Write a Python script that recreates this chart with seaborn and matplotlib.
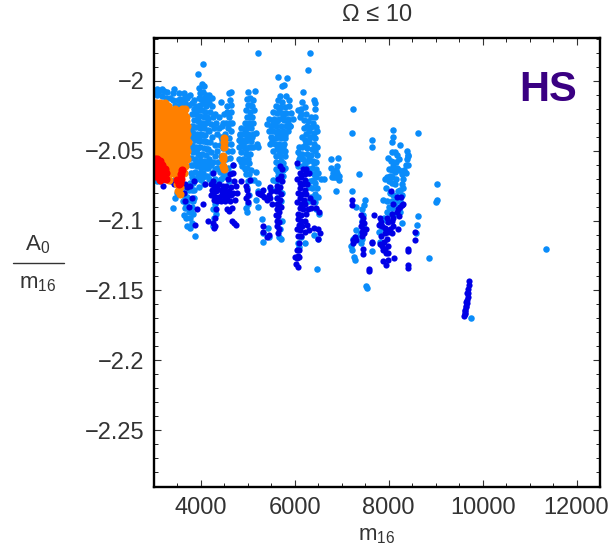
import matplotlib
matplotlib.use('Agg')
import matplotlib.pyplot as plt
from matplotlib.lines import Line2D
from matplotlib.ticker import MultipleLocator
import pandas as pd
import seaborn as sns

# values, (m16, A0/m16)
light_left = [(3020,-2.007),(3060,-2.006),(3110,-2.007),(3160,-2.006),(3220,-2.007),(3270,-2.008),(3060,-2.010),(3160,-2.011),
              (3250,-2.012),(3420,-2.006),(3410,-2.009),(3350,-2.012),(3400,-2.014),(3530,-2.009),(3560,-2.013),(3640,-2.009),
              (3660,-2.011),(3520,-2.014),(3600,-2.014),(3700,-2.012),(3760,-2.010),(3450,-2.017),(3550,-2.017),(3660,-2.016),
              (3750,-2.017),(3020,-2.070),(3060,-2.072),(3130,-2.072),(3200,-2.070),(3290,-2.071),(3360,-2.072),(3450,-2.071),
              (3560,-2.071),(3403,-2.091),(3453,-2.084),(3500,-2.080),(3600,-2.075),(3640,-2.080),(3620,-2.086),(3660,-2.091),
              (3640,-2.096),(3700,-2.083),(3740,-2.078),(3770,-2.085),(3720,-2.090),(3780,-2.093),(3690,-2.098),(3760,-2.098),
              (3830,-2.095),(3800,-2.078),(3850,-2.084),(3710,-2.104),(3772,-2.105),(3800,-2.102),(3878,-2.111),(3830,-2.073),
              (3680,-2.088),(3810,-2.090),(3740,-2.094),(3680,-2.076),(3770,-2.073),(3860,-2.078),(3660,-2.083),(3830,-2.086)]
light_b = [(4034,-1.988),(3935,-1.995),(4020,-2.002),(3960,-2.005),(4060,-2.004),(3980,-2.009),(4040,-2.008),(4100,-2.010),
           (3950,-2.012),(4010,-2.013),(4070,-2.012),(4130,-2.014),(3820,-2.016),(3980,-2.017),(4050,-2.016),(4110,-2.018),
           (3860,-2.020),(3960,-2.021),(4030,-2.021),(4090,-2.022),(3820,-2.024),(3900,-2.024),(3990,-2.025),(4060,-2.026),
           (4130,-2.026),(3850,-2.028),(3940,-2.029),(4020,-2.030),(4100,-2.030),(3800,-2.032),(3890,-2.033),(3970,-2.034),
           (4060,-2.034),(4140,-2.035),(3830,-2.037),(3920,-2.038),(4010,-2.038),(4090,-2.039),(3790,-2.041),(3870,-2.042),
           (3950,-2.043),(4040,-2.043),(4120,-2.044),(3810,-2.046),(3890,-2.047),(3980,-2.047),(4070,-2.048),(3840,-2.051),
           (3930,-2.052),(4020,-2.052),(4110,-2.053),(3790,-2.055),(3880,-2.056),(3970,-2.057),(4060,-2.057),(4140,-2.058),
           (3830,-2.060),(3920,-2.061),(4010,-2.062),(4100,-2.062),(3870,-2.065),(3960,-2.066),(4050,-2.066),(3820,-2.069),
           (3900,-2.070),(4000,-2.071),(4130,-2.068),(3950,-2.076),(4060,-2.074),
           (3900,-2.018),(3860,-2.014),(3930,-2.026),(3860,-2.033),(3780,-2.036),(3960,-2.040),(3850,-2.039),(3800,-2.049),
           (3780,-2.060),(3900,-2.058),(3990,-2.054),(4080,-2.043),(4120,-2.049),(4080,-2.060),(3860,-2.072),(3790,-2.066),
           (3940,-2.068),(3990,-2.060),(4040,-2.069),(3920,-2.049),(4050,-2.039),(3990,-2.030)]
light_c = [(4425,-2.015),(4180,-2.010),(4230,-2.012),(4170,-2.016),(4240,-2.018),(4190,-2.022),(4160,-2.027),(4250,-2.026),
           (4210,-2.031),(4170,-2.036),(4270,-2.034),(4240,-2.040),(4190,-2.044),(4160,-2.049),(4290,-2.046),(4220,-2.051),
           (4180,-2.056),(4260,-2.058),(4160,-2.062),(4300,-2.063),(4230,-2.066),(4180,-2.070),(4550,-2.018),(4590,-2.009),
           (4630,-2.008),(4610,-2.014),(4560,-2.022),(4640,-2.017),(4590,-2.026),(4650,-2.022),(4530,-2.030),(4620,-2.030),
           (4480,-2.030),(4580,-2.034),(4640,-2.036),(4510,-2.038),(4600,-2.041),(4450,-2.042),(4540,-2.045),(4630,-2.045),
           (4400,-2.046),(4480,-2.048),(4580,-2.050),(4350,-2.050),(4430,-2.054),(4530,-2.056),(4620,-2.055),(4370,-2.058),
           (4470,-2.060),(4570,-2.062),(4400,-2.065),(4510,-2.067),(4640,-2.066),(4680,-2.060),(4350,-2.072),(4600,-2.072),
           (4250,-2.092),(4300,-2.088),(4280,-2.098),(4330,-2.095),(4260,-2.104),
           (4300,-2.024),(4330,-2.030),(4340,-2.038),(4390,-2.034),(4420,-2.040),(4300,-2.054),(4340,-2.062),(4440,-2.032),
           (4380,-2.026),(4500,-2.024),(4210,-2.060),(4290,-2.070),(4420,-2.070),(4470,-2.069),(4660,-2.030),(4660,-2.050)]
light_d = [(5225,-1.980),(5010,-2.008),(5160,-2.007),(4980,-2.013),(5050,-2.012),(5110,-2.014),(5010,-2.017),(5080,-2.018),
           (4970,-2.021),(5050,-2.022),(5130,-2.021),(4990,-2.026),(5080,-2.026),(4930,-2.030),(5030,-2.030),(5110,-2.030),
           (4860,-2.034),(4950,-2.034),(5060,-2.034),(4830,-2.038),(4910,-2.038),(5000,-2.038),(5100,-2.038),(4800,-2.042),
           (4880,-2.042),(4970,-2.043),(5060,-2.043),(4820,-2.047),(4910,-2.047),(5020,-2.047),(5110,-2.047),(4850,-2.051),
           (4950,-2.052),(5050,-2.052),(4820,-2.056),(4900,-2.056),(5000,-2.056),(4880,-2.061),(4990,-2.062),(5060,-2.064),
           (4950,-2.067),(5000,-2.072),(5060,-2.071),(4980,-2.077),(5020,-2.082),(5170,-2.037),(5200,-2.045),(5220,-2.047),
           (5180,-2.065),(5210,-2.073),(5220,-2.079),(5130,-2.071),(5170,-2.085),(5210,-2.090),(4950,-2.091),(5000,-2.088),
           (4990,-2.094),(5290,-2.099),(5330,-2.109),(5320,-2.115),(5440,-2.112),(5420,-2.105),
           (4900,-2.045),(4960,-2.049),(4860,-2.044),(4930,-2.036),(5010,-2.033),(5040,-2.026),(4980,-2.041),(5070,-2.047),
           (4860,-2.058),(4940,-2.058),(5030,-2.059),(4930,-2.063),(5030,-2.067),(4840,-2.039),(5090,-2.040),(5040,-2.017)]
light_e = [(5650,-1.997),(5830,-1.998),(5760,-2.003),(5720,-2.004),(5690,-2.011),(5810,-2.011),(5640,-2.014),(5730,-2.015),
           (5870,-2.014),(5590,-2.018),(5680,-2.019),(5780,-2.019),(5880,-2.018),(5530,-2.022),(5620,-2.023),(5720,-2.023),
           (5820,-2.023),(5920,-2.023),(5460,-2.027),(5560,-2.027),(5660,-2.027),(5760,-2.028),(5860,-2.027),(5960,-2.027),
           (5400,-2.031),(5490,-2.032),(5590,-2.032),(5700,-2.032),(5810,-2.032),(5900,-2.032),(5440,-2.036),(5540,-2.036),
           (5650,-2.036),(5750,-2.036),(5850,-2.036),(5500,-2.040),(5600,-2.041),(5700,-2.041),(5800,-2.041),(5470,-2.045),
           (5570,-2.045),(5670,-2.045),(5770,-2.045),(5620,-2.049),(5720,-2.050),(5540,-2.050),(5790,-2.050),(5600,-2.054),
           (5690,-2.054),(5790,-2.054),(5640,-2.059),(5740,-2.059),(5600,-2.063),(5690,-2.063),(5780,-2.062),(5650,-2.068),
           (5740,-2.068),(5600,-2.072),(5700,-2.072),(5530,-2.071),(5480,-2.077),(5590,-2.078),(5660,-2.078),(5720,-2.080),
           (5610,-2.084),(5700,-2.086),(5650,-2.092),(5720,-2.100),(5690,-2.106),(5660,-2.112),(5700,-2.113),(5900,-2.032),
           (5660,-2.020),(5740,-2.025),(5620,-2.029),(5850,-2.030),(5540,-2.030),(5710,-2.038),(5610,-2.038),(5800,-2.039),
           (5520,-2.043),(5640,-2.048),(5740,-2.047),(5660,-2.052),(5600,-2.058),(5700,-2.057),(5640,-2.065),(5750,-2.064)]
light_f = [(6324,-1.980),(6289,-1.992),(6180,-2.008),(6400,-2.014),(6420,-2.016),(6160,-2.015),(6130,-2.020),(6220,-2.019),
           (6060,-2.021),(6430,-2.020),(6140,-2.024),(6230,-2.024),(6100,-2.026),(6350,-2.026),(6440,-2.026),(6200,-2.028),
           (6280,-2.029),(6390,-2.030),(6250,-2.032),(6340,-2.033),(6460,-2.033),(6300,-2.036),(6400,-2.037),(6480,-2.036),
           (6240,-2.038),(6350,-2.040),(6440,-2.041),(6150,-2.040),(6210,-2.042),(6300,-2.044),(6400,-2.045),(6080,-2.047),
           (6160,-2.047),(6260,-2.048),(6360,-2.049),(6480,-2.047),(6060,-2.051),(6150,-2.052),(6250,-2.052),(6350,-2.053),
           (6470,-2.053),(6080,-2.056),(6180,-2.056),(6270,-2.057),(6380,-2.057),(6460,-2.058),(6060,-2.061),(6160,-2.061),
           (6260,-2.062),(6360,-2.062),(6450,-2.063),(6300,-2.066),(6400,-2.067),(6500,-2.066),(6330,-2.072),(6440,-2.073),
           (6370,-2.077),(6470,-2.077),(6430,-2.081),(6500,-2.083),(6300,-2.086),(6420,-2.087),(6560,-2.070),(6450,-2.092),
           (6520,-2.095),(6060,-2.116),(6130,-2.112),(6210,-2.116),(6080,-2.119),(6400,-2.110),(6490,-2.113),(6476,-2.135),
           (6190,-2.034),(6330,-2.040),(6420,-2.050),(6210,-2.046),(6310,-2.055),(6120,-2.053),(6220,-2.059),(6410,-2.059),
           (6330,-2.064),(6450,-2.069),(6380,-2.071),(6300,-2.076),(6340,-2.083),(6400,-2.083)]
light_g = [(6770,-2.056),(6780,-2.062),(6920,-2.055),(6900,-2.061),(6870,-2.064),(6820,-2.066),(6900,-2.066),(6950,-2.068),
           (6790,-2.069),(6830,-2.069),(6930,-2.071),(6880,-2.069),(6620,-2.070),(6870,-2.079),(7248,-2.020),(7226,-2.037),
           (7638,-2.042),(7645,-2.047),(7375,-2.067),(7226,-2.079),(7310,-2.090),(7490,-2.085),(7480,-2.089),(7440,-2.092),
           (7460,-2.096),(7420,-2.100),(7450,-2.104),(7310,-2.107),(7410,-2.109),(7470,-2.106),(7280,-2.112),(7230,-2.113),
           (7190,-2.118),(7220,-2.121),(7410,-2.116),(7250,-2.126),(7280,-2.128),(7645,-2.122),(7531,-2.148),(7520,-2.147),
           (7430,-2.113),(7390,-2.110)]
light_h = [(8084,-2.035),(8084,-2.040),(8075,-2.044),(8250,-2.046),(8390,-2.050),(8400,-2.053),(8420,-2.054),(7990,-2.055),
           (8060,-2.051),(8130,-2.051),(8180,-2.053),(8220,-2.056),(8040,-2.057),(8100,-2.058),(8160,-2.058),(8380,-2.056),
           (8100,-2.061),(8170,-2.062),(8360,-2.060),(8400,-2.060),(8010,-2.063),(8070,-2.064),(8140,-2.065),(8210,-2.064),
           (8330,-2.064),(8370,-2.066),(7960,-2.069),(8030,-2.068),(8080,-2.069),(8150,-2.070),(8290,-2.067),(8310,-2.070),
           (8010,-2.072),(8070,-2.073),(8130,-2.074),(8280,-2.074),(7920,-2.070),(8300,-2.077),(8240,-2.078),(8200,-2.079),
           (8280,-2.082),(7950,-2.077),(8020,-2.080),(8100,-2.082),(8180,-2.083),(7880,-2.085),(7970,-2.086),(8060,-2.086),
           (8140,-2.087),(8240,-2.086),(8000,-2.090),(8080,-2.091),(8190,-2.090),(7960,-2.094),(8040,-2.095),(8140,-2.095),
           (8250,-2.094),(7890,-2.098),(7960,-2.100),(8290,-2.102),(7800,-2.108),(7850,-2.105),(7810,-2.115),(8616,-2.037),
           (9034,-2.074),(9020,-2.085),(9006,-2.087),(8630,-2.097),(8600,-2.103),(8590,-2.109),(8864,-2.127),(11346,-2.120),
           (9757,-2.170)]
dark_a = [(3200,-2.075),(3420,-2.074),(3660,-2.074),(3700,-2.076),(3850,-2.072),(3770,-2.075),(3630,-2.080),(3660,-2.086),
          (3800,-2.084),(3750,-2.090),(3870,-2.103),(3920,-2.092),(4050,-2.088),(4090,-2.074),(4140,-2.100),(4260,-2.066),
          (4250,-2.072),(4270,-2.077),(4290,-2.083),(4330,-2.092),(4300,-2.098),(4270,-2.105),(4260,-2.102),(4300,-2.104)]
dark_b = [(4220,-2.074),(4300,-2.075),(4380,-2.074),(4460,-2.075),(4540,-2.075),(4630,-2.076),(4700,-2.072),(4240,-2.078),
          (4330,-2.079),(4420,-2.078),(4510,-2.079),(4600,-2.079),(4690,-2.080),(4220,-2.082),(4290,-2.083),(4380,-2.083),
          (4470,-2.082),(4560,-2.083),(4650,-2.082),(4760,-2.080),(4740,-2.075),(4720,-2.085),(4340,-2.086),(4430,-2.086),
          (4520,-2.086),(4610,-2.086),(4660,-2.091),(4550,-2.092),(4600,-2.093),(4660,-2.100),(4700,-2.102),(4740,-2.103),
          (4620,-2.067),(4680,-2.066),(4690,-2.060),(4570,-2.070),(4850,-2.072),(4960,-2.075),(4980,-2.078),(5000,-2.082),
          (4960,-2.084),(5010,-2.087),(5040,-2.071),
          (4260,-2.080),(4350,-2.077),(4440,-2.081),(4530,-2.082),(4270,-2.085),(4400,-2.085),(4490,-2.085),(4580,-2.080)]
dark_c = [(5220,-2.080),(5250,-2.081),(5290,-2.082),(5320,-2.078),(5350,-2.083),(5400,-2.085),(5440,-2.082),(5470,-2.084),
          (5500,-2.079),(5480,-2.076),(5520,-2.088),(5590,-2.079),(5690,-2.061),(5720,-2.063),(5700,-2.068),(5650,-2.070),
          (5720,-2.072),(5620,-2.075),(5690,-2.076),(5640,-2.079),(5700,-2.081),(5620,-2.084),(5680,-2.085),(5610,-2.088),
          (5660,-2.089),(5700,-2.090),(5620,-2.092),(5670,-2.094),(5600,-2.096),(5650,-2.097),(5610,-2.100),(5660,-2.101),
          (5620,-2.104),(5660,-2.106),(5640,-2.109),(5320,-2.104),(5330,-2.108),(5410,-2.112),(5440,-2.110)]
dark_d = [(6040,-2.059),(6230,-2.063),(6170,-2.063),(6120,-2.066),(6210,-2.067),(6300,-2.066),(6050,-2.070),(6130,-2.069),
          (6220,-2.071),(6100,-2.073),(6180,-2.074),(6250,-2.074),(6120,-2.077),(6210,-2.078),(6060,-2.080),(6150,-2.081),
          (6240,-2.081),(6110,-2.084),(6190,-2.085),(6040,-2.087),(6130,-2.088),(6220,-2.088),(6330,-2.084),(6390,-2.087),
          (6100,-2.091),(6180,-2.092),(6270,-2.092),(6350,-2.091),(6460,-2.091),(6520,-2.094),(6060,-2.095),(6140,-2.096),
          (6230,-2.095),(6060,-2.099),(6130,-2.100),(6220,-2.100),(6080,-2.103),(6160,-2.104),(6260,-2.103),(6050,-2.106),
          (6120,-2.107),(6220,-2.108),(6300,-2.107),(6400,-2.105),(6500,-2.106),(6530,-2.109),(6490,-2.113),(6060,-2.111),
          (6140,-2.111),(6090,-2.116),(6040,-2.121),(6090,-2.121),(6060,-2.125),(6040,-2.127),(6090,-2.126),(6000,-2.126),
          (6030,-2.131),(6060,-2.133)]
dark_e = [(7226,-2.085),(7215,-2.089),(7690,-2.096),(7410,-2.096),(7450,-2.098),(7430,-2.101),(7470,-2.102),(7410,-2.104),
          (7460,-2.106),(7520,-2.106),(7420,-2.108),(7480,-2.109),(7280,-2.112),(7240,-2.114),(7310,-2.114),(7230,-2.116),
          (7440,-2.111),(7650,-2.115),(7650,-2.116),(7460,-2.120),(7450,-2.124),(7580,-2.135),(7570,-2.136)]
dark_f = [(8040,-2.079),(8180,-2.083),(8270,-2.083),(8280,-2.089),(8300,-2.088),(8090,-2.088),(8230,-2.090),(8190,-2.092),
          (8070,-2.095),(8170,-2.094),(8220,-2.097),(8100,-2.098),(7820,-2.098),(7840,-2.101),(7960,-2.098),(7990,-2.101),
          (8060,-2.100),(7800,-2.103),(7860,-2.104),(7930,-2.105),(8200,-2.106),(8020,-2.106),(8090,-2.104),(7920,-2.109),
          (7990,-2.108),(8060,-2.109),(7830,-2.111),(7960,-2.113),(7900,-2.115),(7820,-2.117),(7860,-2.118),(7930,-2.120),
          (7980,-2.118),(7870,-2.121),(7940,-2.123),(7990,-2.123),(7880,-2.129),(7980,-2.128),(8120,-2.127),(7950,-2.132),
          (8560,-2.114),(8570,-2.108),(8420,-2.120),(8420,-2.122),(8400,-2.132),(8410,-2.134)]
dark_g = [(9708,-2.143),(9700,-2.146),(9695,-2.149),(9690,-2.152),(9680,-2.155),(9675,-2.157),(9665,-2.159),(9655,-2.161),
          (9640,-2.162),(9630,-2.164),(9625,-2.165),(9620,-2.166),(9615,-2.167),(9609,-2.168),(9640,-2.158),(9660,-2.152)]
orange_pts = [(3040,-2.016),(3130,-2.016),(3230,-2.016),(3300,-2.018),(3040,-2.020),(3130,-2.020),(3230,-2.020),(3330,-2.021),
              (3440,-2.020),(3600,-2.020),(3660,-2.020),(3040,-2.026),(3130,-2.026),(3230,-2.026),(3330,-2.027),(3430,-2.025),
              (3530,-2.024),(3630,-2.024),(3690,-2.026),(3040,-2.032),(3130,-2.032),(3230,-2.032),(3330,-2.032),(3430,-2.031),
              (3530,-2.031),(3630,-2.030),(3700,-2.032),(3040,-2.038),(3130,-2.038),(3230,-2.038),(3330,-2.038),(3430,-2.037),
              (3530,-2.037),(3630,-2.037),(3710,-2.038),(3040,-2.044),(3130,-2.044),(3230,-2.044),(3330,-2.044),(3430,-2.044),
              (3530,-2.043),(3630,-2.043),(3720,-2.044),(3040,-2.050),(3130,-2.050),(3230,-2.050),(3330,-2.050),(3430,-2.050),
              (3530,-2.050),(3630,-2.050),(3710,-2.050),(3040,-2.053),(3130,-2.055),(3230,-2.056),(3330,-2.056),(3430,-2.056),
              (3530,-2.056),(3630,-2.056),(3700,-2.056),(3300,-2.061),(3390,-2.062),(3480,-2.062),(3570,-2.062),(3650,-2.061),
              (3350,-2.066),(3440,-2.067),(3540,-2.066),(3640,-2.066),(3310,-2.071),(3540,-2.072),(3480,-2.074),(3560,-2.076),
              (3520,-2.079),(3560,-2.081),(4495,-2.041),(4490,-2.044),(4485,-2.047),(4480,-2.054),(4480,-2.056),(4480,-2.061),
              (4485,-2.063),(3080,-2.023),(3180,-2.023),(3280,-2.023),(3380,-2.023),(3480,-2.027),(3580,-2.027),(3680,-2.029),
              (3080,-2.029),(3180,-2.029),(3280,-2.029),(3380,-2.029),(3480,-2.034),(3580,-2.034),(3680,-2.035),(3080,-2.035),
              (3180,-2.035),(3280,-2.035),(3380,-2.035),(3480,-2.041),(3580,-2.040),(3680,-2.041),(3080,-2.041),(3180,-2.041),
              (3280,-2.041),(3380,-2.041),(3480,-2.047),(3580,-2.047),(3680,-2.047),(3080,-2.047),(3180,-2.047),(3280,-2.047),
              (3380,-2.047),(3480,-2.053),(3580,-2.053),(3680,-2.053),(3180,-2.053),(3280,-2.053),(3380,-2.053),(3430,-2.059),
              (3530,-2.059),(3630,-2.059),(3330,-2.059),(3400,-2.064),(3490,-2.064),(3590,-2.064)]
red_pts = [(3020,-2.056),(3070,-2.056),(3130,-2.057),(3020,-2.060),(3080,-2.060),(3160,-2.060),(3020,-2.064),(3090,-2.064),
           (3170,-2.064),(3240,-2.063),(3030,-2.068),(3100,-2.068),(3180,-2.067),(3260,-2.066),(3130,-2.071),(3260,-2.070),
           (3590,-2.064),(3580,-2.067),(3570,-2.070),(3560,-2.073),(3540,-2.074),(3480,-2.071)]

xticks = [4000, 6000, 8000, 10000, 12000]
xticklabels = ['4000', '6000', '8000', '10000', '12000']
yticks = [-2.0, -2.05, -2.1, -2.15, -2.2, -2.25]
yticklabels = ['\u22122', '\u22122.05', '\u22122.1', '\u22122.15', '\u22122.2', '\u22122.25']

sns.set_style('ticks')
plt.rcParams['font.family'] = ['Liberation Sans', 'DejaVu Sans']
plt.rcParams['mathtext.default'] = 'regular'
plt.rcParams['mathtext.fontset'] = 'custom'
plt.rcParams['mathtext.rm'] = 'Liberation Sans'

fig = plt.figure(figsize=(6.15, 5.49), dpi=100)
ax = fig.add_axes([154/615, 1-487/549, 446/615, 449/549])

light = light_left + light_b + light_c + light_d + light_e + light_f + light_g + light_h
dark = dark_a + dark_b + dark_c + dark_d + dark_e + dark_f + dark_g
layers = [(light, '#0a8cfa', 22), (dark, '#0000e6', 20), (orange_pts, '#ff8000', 34), (red_pts, '#ff0000', 34)]
for pts, col, size in layers:
    df = pd.DataFrame(pts, columns=['m16', 'ratio'])
    sns.scatterplot(data=df, x='m16', y='ratio', color=col, s=size, linewidth=0, ax=ax, legend=False)

ax.set_xlim(3000, 12500)
ax.set_ylim(-2.2907, -1.9693)
ax.set_xticks(xticks)
ax.set_xticklabels(xticklabels)
ax.set_yticks(yticks)
ax.set_yticklabels(yticklabels)
ax.xaxis.set_minor_locator(MultipleLocator(500))
ax.yaxis.set_minor_locator(MultipleLocator(0.01))
ax.tick_params(which='major', direction='in', top=True, right=True, length=5, width=0.8, labelsize=17, colors='#333333', pad=7)
ax.tick_params(which='minor', direction='in', top=True, right=True, length=3, width=0.7, colors='#222222')
for s in ax.spines.values():
    s.set_linewidth(1.7)
    s.set_color('black')
    s.set_visible(True)

ax.set_xlabel('')
ax.set_ylabel('')
fig.text(377/615, 1-15/549, '\u03a9 \u2264 10', ha='center', va='center', fontsize=17, color='#333333')
fig.text(377/615, 1-535/549, 'm$_{16}$', ha='center', va='center', fontsize=16, color='#333333')
fig.text(38/615, 1-245/549, 'A$_0$', ha='center', va='center', fontsize=16, color='#333333')
fig.text(38/615, 1-283/549, 'm$_{16}$', ha='center', va='center', fontsize=16, color='#333333')
fig.add_artist(Line2D([13/615, 64/615], [1-263/549, 1-263/549], color='#333333', lw=1.0))
ax.text(0.948, 0.884, 'HS', transform=ax.transAxes, ha='right', va='center', fontsize=30, fontweight='bold', color='#3a0082')

plt.savefig('out.png', dpi=100)
